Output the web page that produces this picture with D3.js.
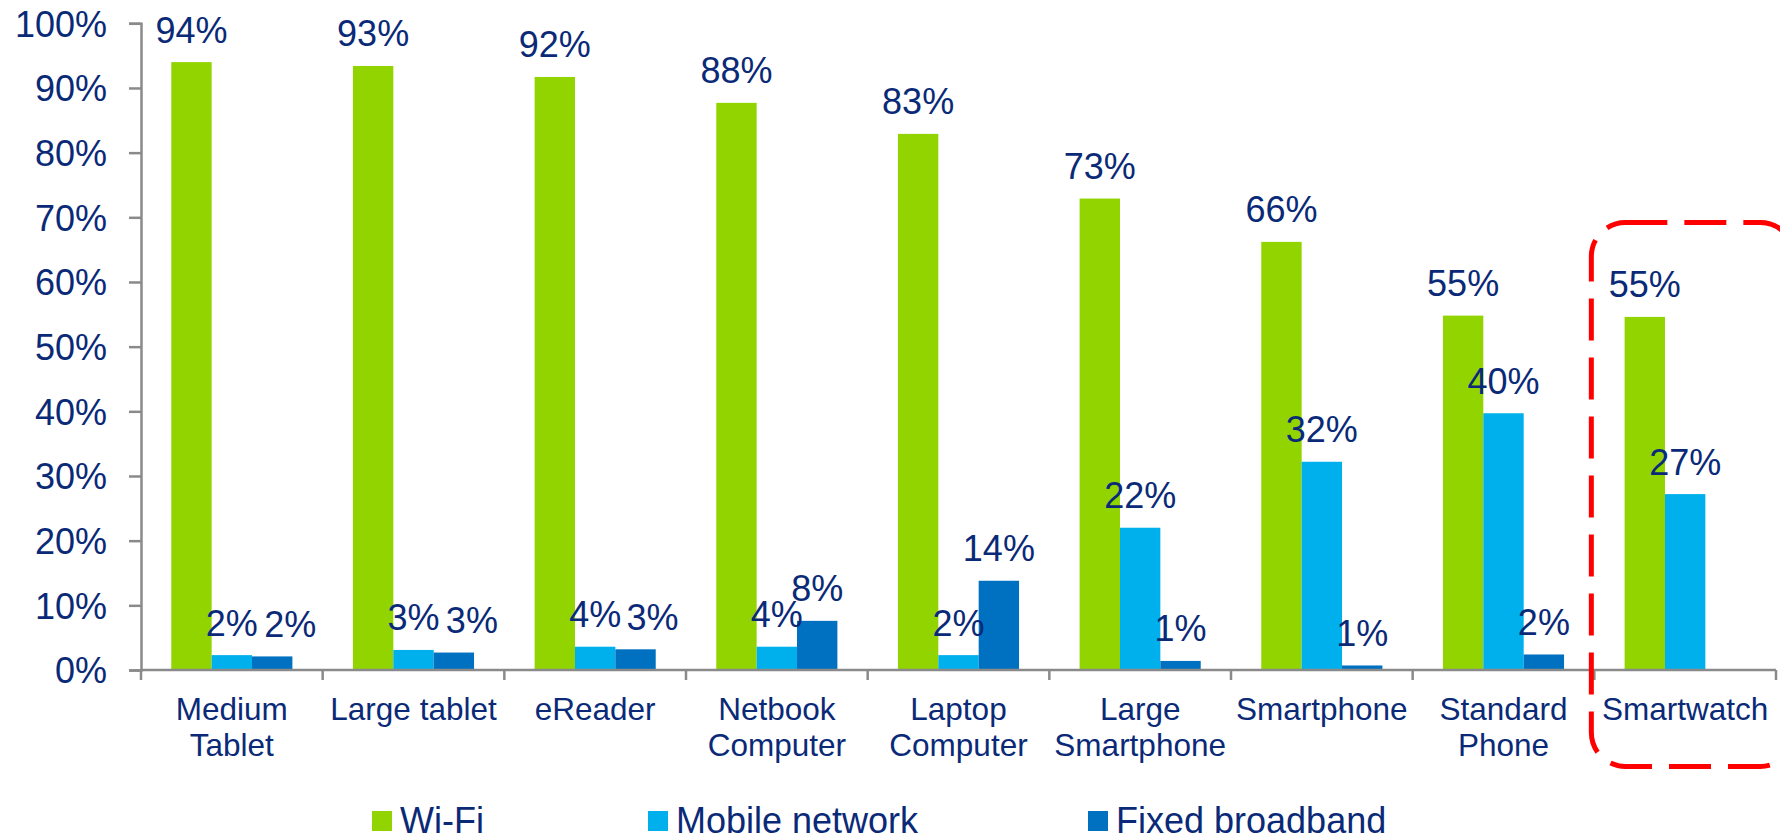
<!DOCTYPE html>
<html>
<head>
<meta charset="utf-8">
<script src="https://cdn.jsdelivr.net/npm/d3@7"></script>
<style>
  html, body { margin: 0; padding: 0; background: #ffffff; }
  svg { display: block; }
  text { font-family: "Liberation Sans", Arial, Helvetica, sans-serif; fill: #0a2a78; }
</style>
</head>
<body>
<svg id="chart" width="1780" height="837"></svg>
<script>
// Connection type used per device (share of owners)
const categories = [
  "Medium Tablet", "Large tablet", "eReader", "Netbook Computer", "Laptop Computer",
  "Large Smartphone", "Smartphone", "Standard Phone", "Smartwatch"
];
// Category labels as they wrap on the axis
const categoryLines = [
  ["Medium", "Tablet"], ["Large tablet"], ["eReader"], ["Netbook", "Computer"],
  ["Laptop", "Computer"], ["Large", "Smartphone"], ["Smartphone"], ["Standard", "Phone"],
  ["Smartwatch"]
];
const seriesNames = ["Wi-Fi", "Mobile network", "Fixed broadband"];
const wifi   = [0.940, 0.934, 0.917, 0.877, 0.829, 0.729, 0.662, 0.548, 0.546];
const mobile = [0.023, 0.031, 0.036, 0.036, 0.023, 0.220, 0.322, 0.397, 0.272];
const fixed  = [0.021, 0.027, 0.032, 0.076, 0.138, 0.014, 0.007, 0.024, null];
const yTicks = [0, 0.1, 0.2, 0.3, 0.4, 0.5, 0.6, 0.7, 0.8, 0.9, 1.0];
const highlighted = "Smartwatch";

const colors = ["#92d400", "#00b0ec", "#0070c0"];
const axisGrey = "#8a8a8a";

// Small sideways nudge for crowded fixed-broadband labels next to short mobile bars
const labelNudge = { "Medium Tablet": 18, "Large tablet": 18, "eReader": 17 };

const svg = d3.select("#chart");

const x = d3.scaleBand().domain(categories).range([141, 1776]).padding(0);
const xs = d3.scaleBand().domain(seriesNames).range([0, x.bandwidth()])
  .paddingInner(0).paddingOuter(0.75);
const y = d3.scaleLinear().domain([0, 1]).range([670, 23.3]);

const pct = d3.format(".0%");

const rows = categories.map((c, i) => ({
  category: c,
  values: [wifi[i], mobile[i], fixed[i]].map((v, j) => ({ category: c, series: seriesNames[j], value: v, idx: j }))
}));

// Bars
const groups = svg.append("g").selectAll("g")
  .data(rows).join("g")
  .attr("transform", d => `translate(${x(d.category)},0)`);

groups.selectAll("rect")
  .data(d => d.values.filter(v => v.value != null))
  .join("rect")
  .attr("x", d => xs(d.series))
  .attr("width", xs.bandwidth())
  .attr("y", d => y(d.value))
  .attr("height", d => y(0) - y(d.value))
  .attr("fill", d => colors[d.idx]);

// Value labels
groups.selectAll("text.value")
  .data(d => d.values.filter(v => v.value != null))
  .join("text")
  .attr("class", "value")
  .attr("x", d => xs(d.series) + xs.bandwidth() / 2 + (d.idx === 2 ? (labelNudge[d.category] || 0) : 0))
  .attr("y", d => y(d.value) - 19.5)
  .attr("text-anchor", "middle")
  .style("font-size", "36px")
  .text(d => pct(d.value));

// Y axis
const yAxis = svg.append("g")
  .attr("transform", "translate(141,0)")
  .call(d3.axisLeft(y).tickValues(yTicks).tickFormat(pct).tickSize(12).tickPadding(22));
yAxis.select(".domain").attr("stroke", axisGrey).attr("stroke-width", 2.5);
yAxis.selectAll(".tick line").attr("stroke", axisGrey).attr("stroke-width", 2.5);
yAxis.selectAll(".tick text")
  .attr("fill", "#0a2a78")
  .attr("dy", "0.36em")
  .style("font-size", "36px")
  .style("font-family", "'Liberation Sans', Arial, sans-serif");

// X axis with ticks on category boundaries
const xAxis = svg.append("g").attr("transform", `translate(0,${y(0)})`);
xAxis.append("line")
  .attr("x1", x.range()[0]).attr("x2", x.range()[1])
  .attr("stroke", axisGrey).attr("stroke-width", 2.5);
xAxis.selectAll("line.tick")
  .data(categories.map(c => x(c)).concat([x.range()[1]]))
  .join("line")
  .attr("class", "tick")
  .attr("x1", d => d).attr("x2", d => d)
  .attr("y1", 0).attr("y2", 10)
  .attr("stroke", axisGrey).attr("stroke-width", 2.5);

const catLabels = xAxis.selectAll("text.cat")
  .data(categories)
  .join("text")
  .attr("class", "cat")
  .attr("text-anchor", "middle")
  .attr("x", d => x(d) + x.bandwidth() / 2)
  .attr("y", 50)
  .style("font-size", "31.5px");
catLabels.selectAll("tspan")
  .data((d, i) => categoryLines[i])
  .join("tspan")
  .attr("x", function () { return d3.select(this.parentNode).attr("x"); })
  .attr("dy", (d, i) => i === 0 ? 0 : 36)
  .text(d => d);

// Highlight frame around the smartwatch group
const hx = x(highlighted);
svg.append("rect")
  .attr("x", hx - 3)
  .attr("y", 222.5)
  .attr("width", 203)
  .attr("height", 544)
  .attr("rx", 34).attr("ry", 34)
  .attr("fill", "none")
  .attr("stroke", "#ff0000")
  .attr("stroke-width", 5)
  .attr("stroke-dasharray", "42 17");

// Legend
const legendX = [372, 648, 1088];
const legend = svg.append("g").selectAll("g")
  .data(seriesNames).join("g")
  .attr("transform", (d, i) => `translate(${legendX[i]},0)`);
legend.append("rect")
  .attr("x", 0).attr("y", 811)
  .attr("width", 20).attr("height", 20)
  .attr("fill", (d, i) => colors[i]);
legend.append("text")
  .attr("x", 28).attr("y", 833)
  .style("font-size", "36px")
  .text(d => d);
</script>
</body>
</html>
